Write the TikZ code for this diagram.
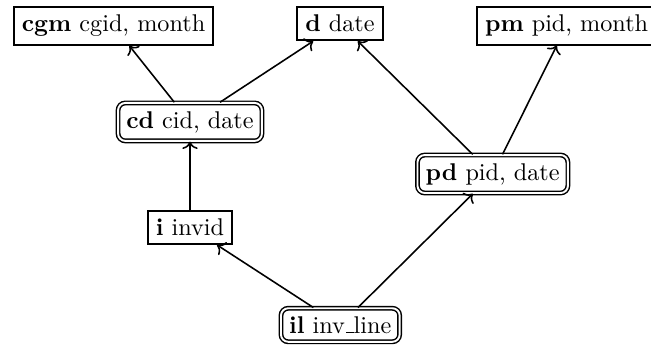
\documentclass[tikz,border=0pt]{standalone}
\usetikzlibrary{arrows.meta}
\newcommand{\myus}{\leavevmode\kern.06em\vbox{\hrule width.3em}}
\begin{document}
\begin{tikzpicture}[
  plainbox/.style={draw, line width=0.8pt, inner sep=3.33pt},
  dblbox/.style={draw, double, line width=0.6pt, double distance=0.8pt, rounded corners=3pt, inner sep=3.4pt},
  conn/.style={->, line width=0.65pt}
]
\useasboundingbox (0,0) rectangle (9.45,5.008);
\node[plainbox, anchor=north] (cgm) at (1.648,4.921) {\textbf{cgm} cgid, month};
\node[plainbox, anchor=north] (d) at (4.935,4.921) {\textbf{d} date};
\node[plainbox, anchor=north west] (pm) at (6.910,4.921) {\textbf{pm} pid, month};
\node[dblbox] (cd) at (2.758,3.238) {\textbf{cd} cid, date};
\node[dblbox] (pd) at (7.152,2.482) {\textbf{pd} pid, date};
\node[plainbox] (i) at (2.758,1.707) {\textbf{i} invid};
\node[dblbox] (il) at (4.940,0.29) {\textbf{il} inv\myus line};
\draw[conn] (il) -- (i);
\draw[conn] (il) -- (pd);
\draw[conn] (i) -- (cd);
\draw[conn] (cd) -- (cgm);
\draw[conn] (cd) -- (d);
\draw[conn] (pd) -- (d);
\draw[conn] (pd) -- (pm);
\end{tikzpicture}
\end{document}
